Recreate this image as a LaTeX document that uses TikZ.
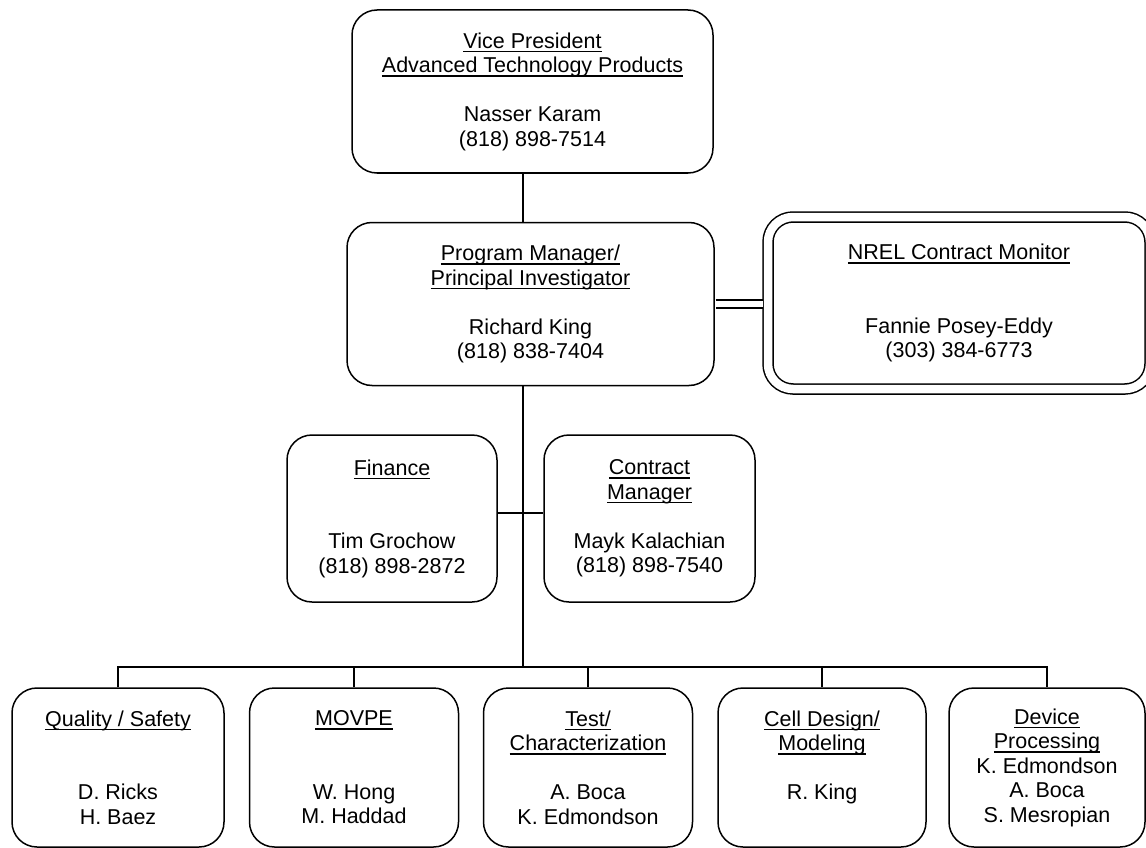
\documentclass[tikz,border=0pt]{standalone}
\usepackage{fontspec}
\setmainfont{Liberation Sans}

% underlined heading line, the rule sits a little below the baseline
\newcommand\ttl[1]{\leavevmode\setbox0\hbox{#1}\rlap{\rule[-4pt]{\wd0}{1.5pt}}\box0}

\begin{document}
\begin{tikzpicture}[x=1pt,y=-1pt]

      % Styles for the boxes and for the lines joining them
      \tikzstyle{unit}=[draw, line width=1.5pt, rounded corners=25pt, align=center, inner sep=0pt, font=\fontsize{21.5}{24.5}\selectfont]
      \tikzstyle{team}=[unit, minimum height=159pt]
      \tikzstyle{link}=[line width=1.6pt]
      \tikzstyle{pair}=[line width=1.5pt, double=white, double distance=6.5pt]

      \useasboundingbox (0,0) rectangle (1146,848);

      % Define dimensions
      \def\bus{667}     % Height of the line over the five teams
      \def\trunk{523}   % Position of the main vertical line

      \coordinate (tr) at (\trunk,\bus);     % Where the trunk meets the bus
      \coordinate (hub) at (\trunk,513);     % Where the staff line crosses the trunk

      % Management
      \node[unit, minimum width=361pt, minimum height=163pt] (vp) at (532.5,91.5)
            {\ttl{Vice President}\\\ttl{Advanced Technology Products}\\[24.5pt]Nasser Karam\\(818) 898-7514};
      \node[unit, minimum width=367pt, minimum height=163pt] (pm) at (530.5,304)
            {\ttl{Program Manager/}\\\ttl{Principal Investigator}\\[24.5pt]Richard King\\(818) 838-7404};
      \node[unit, double=white, double distance=8.5pt, minimum width=382pt, minimum height=172pt] (nrel) at (959,303)
            {\ttl{NREL Contract Monitor}\\[49pt]Fannie Posey-Eddy\\(303) 384-6773};

      % Staff
      \node[unit, minimum width=210pt, minimum height=167pt] (fin) at (392,518.5)
            {\ttl{Finance}\\[49pt]Tim Grochow\\(818) 898-2872};
      \node[unit, minimum width=211pt, minimum height=167pt] (cm) at (649.5,518.5)
            {\ttl{Contract}\\\ttl{Manager}\\[24.5pt]Mayk Kalachian\\(818) 898-7540};

      % Teams
      \node[team, minimum width=212pt] (qs) at (118,767.5)
            {\ttl{Quality / Safety}\\[49pt]D. Ricks\\H. Baez};
      \node[team, minimum width=209pt] (movpe) at (354,767.5)
            {\ttl{MOVPE}\\[49pt]W. Hong\\M. Haddad};
      \node[team, minimum width=209pt] (test) at (588,767.5)
            {\ttl{Test/}\\\ttl{Characterization}\\[24.5pt]A. Boca\\K. Edmondson};
      \node[team, minimum width=208pt] (cell) at (822,767.5)
            {\ttl{Cell Design/}\\\ttl{Modeling}\\[24.5pt]R. King\\\mbox{}};
      \node[team, minimum width=196pt] (dev) at (1047,767.5)
            {\ttl{Device}\\\ttl{Processing}\\K. Edmondson\\A. Boca\\S. Mesropian};

      % Lines
      \draw [link] (vp.south -| tr) -- (pm.north -| tr);
      \draw [link] (pm.south -| tr) -- (tr);
      \draw [link] (fin.east |- hub) -- (cm.west |- hub);
      \draw [link] (qs.north) |- (tr) -| (dev.north);
      \foreach \team in {movpe,test,cell}
            \draw [link] (\team.north) -- (\team.north |- tr);

      % Double line to the contract monitor, stopping at its outer border
      \path (nrel.west) ++(-4.75,0) coordinate (nw);
      \path (pm.east) ++(0.75,0) coordinate (pe);
      \draw [pair] (pe) -- (pe -| nw);

\end{tikzpicture}
\end{document}
